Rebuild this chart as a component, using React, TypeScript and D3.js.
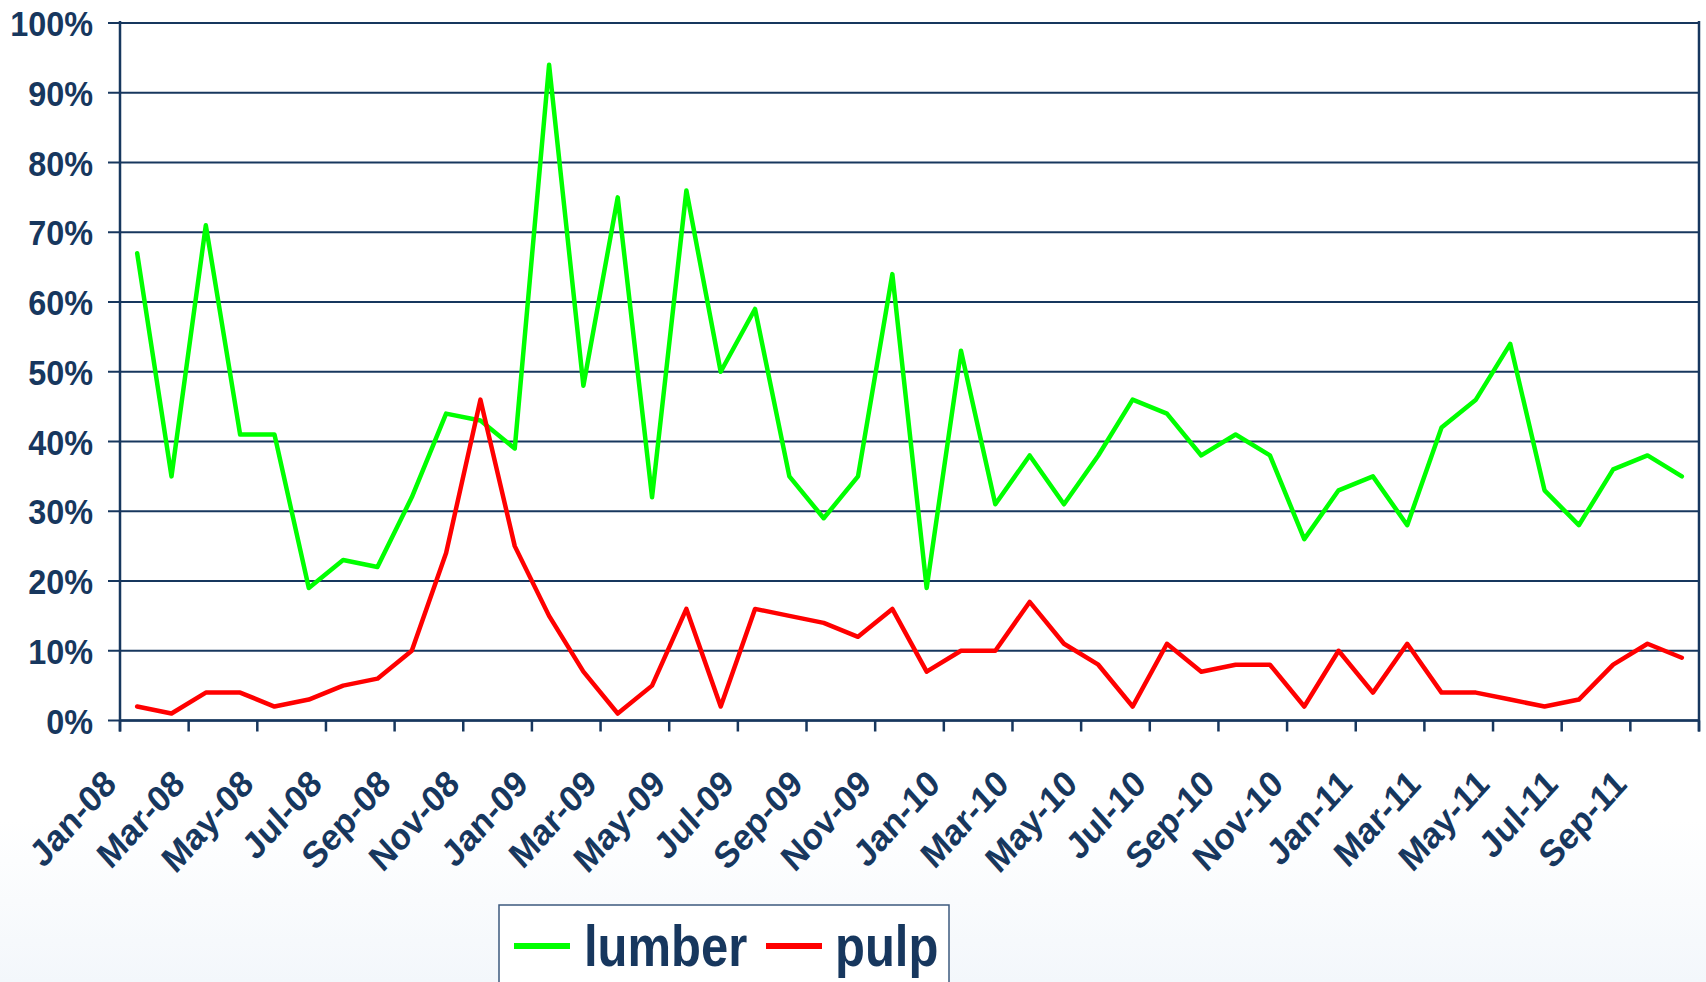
import React from "react";
import * as d3 from "d3";

const months = [
  "Jan-08","Feb-08","Mar-08","Apr-08","May-08","Jun-08","Jul-08","Aug-08","Sep-08","Oct-08","Nov-08","Dec-08",
  "Jan-09","Feb-09","Mar-09","Apr-09","May-09","Jun-09","Jul-09","Aug-09","Sep-09","Oct-09","Nov-09","Dec-09",
  "Jan-10","Feb-10","Mar-10","Apr-10","May-10","Jun-10","Jul-10","Aug-10","Sep-10","Oct-10","Nov-10","Dec-10",
  "Jan-11","Feb-11","Mar-11","Apr-11","May-11","Jun-11","Jul-11","Aug-11","Sep-11","Oct-11",
];

const lumber = [
  67, 35, 71, 41, 41, 19, 23, 22, 32, 44, 43, 39,
  94, 48, 75, 32, 76, 50, 59, 35, 29, 35, 64, 19,
  53, 31, 38, 31, 38, 46, 44, 38, 41, 38, 26, 33,
  35, 28, 42, 46, 54, 33, 28, 36, 38, 35,
];

const pulp = [
  2, 1, 4, 4, 2, 3, 5, 6, 10, 24, 46, 25,
  15, 7, 1, 5, 16, 2, 16, 15, 14, 12, 16, 7,
  10, 10, 17, 11, 8, 2, 11, 7, 8, 8, 2, 10,
  4, 11, 4, 4, 3, 2, 3, 8, 11, 9,
];

const yTicks = [0, 10, 20, 30, 40, 50, 60, 70, 80, 90, 100];

const seriesNames = ["lumber", "pulp"];
const seriesColors = ["#00FF00", "#FF0000"];

const NAVY = "#17375E";
const W = 1706;
const H = 982;
const left = 120;
const right = 1699;
const top = 23;
const bottom = 720.5;
const SX = 0.9;

export default function App() {
  const x = d3
    .scaleBand<string>()
    .domain(months)
    .range([left, right])
    .paddingInner(0)
    .paddingOuter(0);
  const y = d3.scaleLinear().domain([0, 100]).range([bottom, top]);
  const cx = (i: number) => (x(months[i]) as number) + x.bandwidth() / 2;

  const line = d3
    .line<number>()
    .x((_, i) => cx(i))
    .y((d) => y(d));

  const tickIdx = d3.range(0, months.length + 1, 2);
  const tickX = (k: number) =>
    k < months.length ? (x(months[k]) as number) : right;

  return (
    <svg
      width={W}
      height={H}
      style={{ position: "absolute", left: 0, top: 0, background: "#fff" }}
      fontFamily="'Liberation Sans', Arial, sans-serif"
    >
      <defs>
        <linearGradient id="bg" x1="0" y1="0" x2="0" y2="1">
          <stop offset="0" stopColor="#ffffff" />
          <stop offset="1" stopColor="#f3f7fb" />
        </linearGradient>
      </defs>
      <rect x={0} y={0} width={W} height={H} fill="#fff" />
      <rect x={0} y={820} width={W} height={H - 820} fill="url(#bg)" />

      {/* gridlines */}
      {yTicks.map((t) => (
        <line
          key={"g" + t}
          x1={left - 12}
          x2={right}
          y1={y(t)}
          y2={y(t)}
          stroke={NAVY}
          strokeWidth={2}
        />
      ))}
      {/* axes */}
      <line x1={left} x2={left} y1={top - 2} y2={bottom + 11} stroke={NAVY} strokeWidth={2.5} />
      <line x1={right} x2={right} y1={top - 2} y2={bottom + 11} stroke={NAVY} strokeWidth={2.5} />
      <line x1={left} x2={right} y1={bottom} y2={bottom} stroke={NAVY} strokeWidth={2.5} />
      {tickIdx.map((k) => (
        <line
          key={"t" + k}
          x1={tickX(k)}
          x2={tickX(k)}
          y1={bottom}
          y2={bottom + 11}
          stroke={NAVY}
          strokeWidth={2.5}
        />
      ))}

      {/* y labels */}
      {yTicks.map((t) => (
        <text
          key={"yl" + t}
          transform={`translate(${left - 27},${y(t) + 13}) scale(${SX},1)`}
          textAnchor="end"
          fontSize={36}
          fontWeight="bold"
          fill={NAVY}
        >
          {t}%
        </text>
      ))}

      {/* x labels */}
      {tickIdx
        .filter((k) => k < months.length)
        .map((k) => (
          <text
            key={"xl" + k}
            transform={`translate(${tickX(k) - 2},786) scale(${SX},1) rotate(-45)`}
            textAnchor="end"
            fontSize={37}
            fontWeight="bold"
            fill={NAVY}
          >
            {months[k]}
          </text>
        ))}

      {/* series */}
      {[lumber, pulp].map((s, si) => (
        <path
          key={"s" + si}
          d={line(s) as string}
          fill="none"
          stroke={seriesColors[si]}
          strokeWidth={4.5}
          strokeLinejoin="round"
          strokeLinecap="round"
        />
      ))}

      {/* legend */}
      <rect x={499} y={905} width={450} height={90} fill="#fff" stroke="#3c5a7e" strokeWidth={1.5} />
      <line x1={514} x2={570} y1={946} y2={946} stroke={seriesColors[0]} strokeWidth={6} />
      <text
        transform={`translate(584,966) scale(0.86,1)`}
        fontSize={57}
        fontWeight="bold"
        fill={NAVY}
      >
        {seriesNames[0]}
      </text>
      <line x1={766} x2={822} y1={946} y2={946} stroke={seriesColors[1]} strokeWidth={6} />
      <text
        transform={`translate(835,966) scale(0.86,1)`}
        fontSize={57}
        fontWeight="bold"
        fill={NAVY}
      >
        {seriesNames[1]}
      </text>
    </svg>
  );
}
